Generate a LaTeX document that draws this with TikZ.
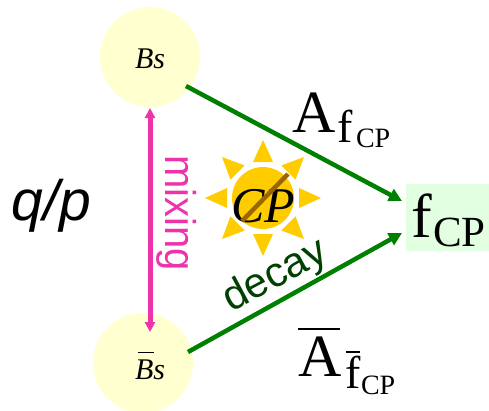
\documentclass[tikz,border=0pt]{standalone}
\usepackage{fontspec}
\setmainfont{Liberation Serif}
\setsansfont{Liberation Sans}
\usetikzlibrary{arrows.meta}
\definecolor{ballc}{HTML}{FFFFD0}
\definecolor{boxc}{HTML}{E2FFE2}
\definecolor{arrowc}{HTML}{008000}
\definecolor{pinkc}{HTML}{EE33AA}
\definecolor{sunc}{HTML}{FFCC00}
\definecolor{barc}{HTML}{996600}
\definecolor{decayc}{HTML}{004000}
\newcommand{\fs}[1]{\fontsize{#1}{#1}\selectfont}
\tikzset{
  ball/.style={circle,fill=ballc,minimum size=100pt,inner sep=0pt},
  txt/.style={inner sep=0pt,outer sep=0pt,anchor=base west,black},
  greenarrow/.style={draw=arrowc,line width=4.5pt,-{Triangle[length=13pt,width=13pt]}},
  pinkarrow/.style={draw=pinkc,line width=5pt,{Triangle[length=10pt,width=10pt]}-{Triangle[length=10pt,width=10pt]}},
  ray/.style={fill=sunc,draw=none},
}
\begin{document}
\begin{tikzpicture}[x=1pt,y=-1pt]
\useasboundingbox (0,0) rectangle (489,410);
\node[ball] (bs) at (150,57) {};
\node[ball] (bb) at (143,363) {};
\fill[boxc] (406,184) rectangle (489,251);
\coordinate (bsE) at (186,86);
\coordinate (bbE) at (188,352);
\coordinate (fT) at (402,201);
\coordinate (fB) at (402,233);
\coordinate (mT) at (150,108);
\coordinate (mB) at (150,332);
\draw[greenarrow] (bsE) -- (fT);
\draw[greenarrow] (bbE) -- (fB);
\draw[pinkarrow] (mT) -- (mB);
% sun
\begin{scope}[shift={(263,198)}]
\fill[sunc] (0,0) circle (31);
\foreach \a in {0,45,...,315}{
  \fill[ray,rotate=\a] (36,-10) -- (58,0) -- (36,10) -- cycle;
}
\end{scope}
\node[txt] (cp) at (231,222) {\fs{50}\itshape CP};
\coordinate (barA) at (288,174);
\coordinate (barB) at (242,221);
\draw[barc,line width=4.5pt] (barA) -- (barB);
% labels
\node[txt] (bst) at (135,68) {\fs{30}\itshape Bs};
\node[txt] (bbt) at (135,379) {\fs{30}\itshape Bs};
\coordinate (bbl) at (138,352); \coordinate (bbr) at (154,352);
\draw[black,line width=1pt] (bbl) -- (bbr);
\node[txt] (qp) at (12,220) {\fs{57}\sffamily\itshape q/p};
\node[txt,rotate=-90,pinkc,anchor=base west] (mix) at (165,155) {\fs{43}\sffamily\scalebox{0.93}[1]{mixing}};
\node[txt,rotate=28,decayc,anchor=base west] (dec) at (231,312) {\fs{42}\sffamily decay};
\node[txt] (a1) at (292,132) {\fs{60}A};
\node[txt] (a1f) at (337,142) {\fs{46}f};
\node[txt] (a1c) at (356,147) {\fs{28}CP};
\node[txt] (ff) at (411,237) {\fs{62}f};
\node[txt] (fc) at (433,246) {\fs{43}CP};
\node[txt] (a2) at (298,376) {\fs{60}A};
\coordinate (a2l) at (298,329); \coordinate (a2r) at (340,329);
\draw[black,line width=1.5pt] (a2l) -- (a2r);
\node[txt] (a2f) at (345,388) {\fs{46}f};
\coordinate (a2fl) at (346,352); \coordinate (a2fr) at (360,352);
\draw[black,line width=1.2pt] (a2fl) -- (a2fr);
\node[txt] (a2c) at (361,394) {\fs{28}CP};
\end{tikzpicture}
\end{document}
